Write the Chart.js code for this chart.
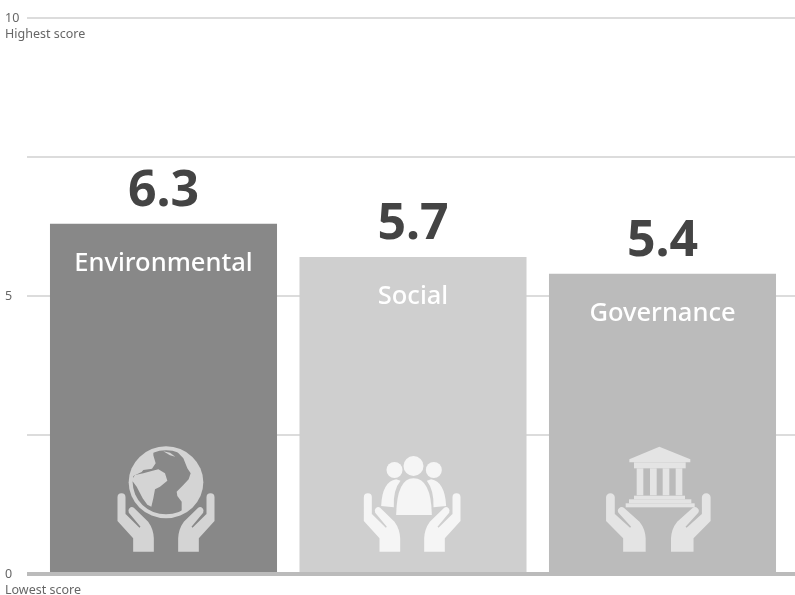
<!DOCTYPE html>
<html>
<head>
<meta charset="utf-8">
<style>
  html, body { margin: 0; padding: 0; background: #fff; }
  #wrap { width: 795px; height: 595px; }
  canvas { display: block; }
</style>
</head>
<body>
<div id="wrap"><canvas id="chart" width="795" height="595"></canvas></div>
<script src="https://cdn.jsdelivr.net/npm/chart.js@4"></script>
<script>
const categories = ['Environmental', 'Social', 'Governance'];
const scores = [6.3, 5.7, 5.4];
const barColors = ['#888888', '#cfcfcf', '#bbbbbb'];
const iconColors = ['#d4d4d4', '#f5f5f5', '#e4e4e4'];
const tickValues = [0, 2.5, 5, 7.5, 10];
const tickLabels = { 0: '0', 5: '5', 10: '10' };
const axisNotes = { 0: 'Lowest score', 10: 'Highest score' };
const FONT = '"Noto Sans", sans-serif';

// one open hand, origin at the inner bottom corner (icon units, 3 = 1px)
const handPath = 'M-109,-163 A12,12 0 0 1 -85,-163 L-85,-112 L-84,-112 L-43,-72 L-40,-75 L-75,-117 A11,11 0 0 1 -60,-132 L-17,-90 Q-1,-68 0,-40 L0,0 L-62,0 L-62,-40 L-109,-92 Z';

function drawHands(ctx, inner, sx) {
  const p = new Path2D(handPath);
  [1, -1].forEach((side) => {
    ctx.save();
    ctx.translate(side * -inner, 365);
    ctx.scale(side * sx, 1);
    ctx.fill(p);
    ctx.restore();
  });
}

function drawGlobe(ctx, bg) {
  const fg = ctx.fillStyle;
  ctx.beginPath();
  ctx.ellipse(0, 157, 112, 108, 0, 0, Math.PI * 2);
  ctx.fill();
  ctx.fillStyle = bg;
  ctx.beginPath();
  ctx.ellipse(0, 157, 100, 96, 0, 0, Math.PI * 2);
  ctx.fill();
  ctx.fillStyle = fg;
  ctx.beginPath();
  ctx.ellipse(0, 157, 104, 100, 0, 0, Math.PI * 2);
  ctx.clip();
  // continents, centred on x = 228 in the source crop
  ctx.translate(-228, 0);
  ctx.fill(new Path2D('M190,50 L190,76 L197,100 L186,116 L160,120 L155,126 L125,140 L110,100 L150,50 Z'));
  ctx.fill(new Path2D('M160,130 L185,123 L205,118 L225,130 L232,152 L210,170 L195,178 L190,205 L184,230 L172,224 L158,205 L140,170 L125,150 L135,135 Z'));
  ctx.fill(new Path2D('M220,64 L240,68 L256,80 L240,76 Z'));
  ctx.fill(new Path2D('M262,66 L280,85 L292,115 L302,130 L296,148 L280,165 L260,185 L262,198 L275,215 L275,250 L310,240 L345,170 L340,100 L300,50 Z'));
}

function drawPeople(ctx) {
  ctx.translate(-218, 0);
  [[222, 108, 30], [165, 120, 24], [283, 120, 24]].forEach((h) => {
    ctx.beginPath();
    ctx.arc(h[0], h[1], h[2], 0, Math.PI * 2);
    ctx.fill();
  });
  ctx.fill(new Path2D('M170,255 Q172,145 222,145 Q275,145 277,255 Z'));
  ctx.fill(new Path2D('M125,228 Q128,155 170,148 L183,152 Q160,180 163,232 Z'));
  ctx.fill(new Path2D('M320,228 Q316,155 275,148 L262,152 Q284,180 282,232 Z'));
}

function drawBank(ctx) {
  ctx.translate(-220, 0);
  ctx.fill(new Path2D('M133,88 L223,50 L316,88 L316,97 L133,97 Z'));
  ctx.fillRect(147, 97, 155, 18);
  [155, 195, 233, 272].forEach((x) => ctx.fillRect(x, 115, 20, 81));
  ctx.fillRect(147, 197, 153, 11);
  ctx.fillRect(132, 208, 187, 12);
  ctx.fillRect(122, 220, 207, 12);
}

// per-bar icon: offset from bar centre, hand spacing and width
const icons = [
  { off: 7.5, inner: 36.5, sx: 1, draw: (ctx) => drawGlobe(ctx, barColors[0]) },
  { off: -2.5, inner: 36, sx: 1, draw: (ctx) => drawPeople(ctx) },
  { off: -12.5, inner: 38, sx: 1.09, draw: (ctx) => drawBank(ctx) }
];

const gridPlugin = {
  id: 'fullGrid',
  beforeDatasetsDraw(chart) {
    const ctx = chart.ctx, y = chart.scales.y;
    ctx.save();
    y.ticks.forEach((t) => {
      if (t.value === 0) return;
      const py = Math.round(y.getPixelForValue(t.value));
      ctx.fillStyle = '#dcdcdc';
      ctx.fillRect(27, py - 1, 768, 2);
    });
    ctx.restore();
  },
  afterDatasetsDraw(chart) {
    const ctx = chart.ctx, y = chart.scales.y;
    const meta = chart.getDatasetMeta(0);
    const base = y.getPixelForValue(0);
    ctx.save();
    ctx.fillStyle = '#bbbbbb';
    ctx.fillRect(27, base - 2, 768, 4);

    ctx.textAlign = 'center';
    ctx.textBaseline = 'middle';
    meta.data.forEach((bar, i) => {
      ctx.fillStyle = '#444444';
      ctx.font = 'bold 50px ' + FONT;
      ctx.fillText(scores[i].toFixed(1), bar.x, bar.y - 32);
      ctx.fillStyle = '#ffffff';
      ctx.font = '500 25.5px ' + FONT;
      ctx.fillText(categories[i], bar.x, bar.y + 40);

      const icon = icons[i];
      ctx.save();
      ctx.translate(bar.x + icon.off / 3, base - 144);
      ctx.scale(1 / 3, 1 / 3);
      ctx.fillStyle = iconColors[i];
      ctx.save();
      icon.draw(ctx);
      ctx.restore();
      drawHands(ctx, icon.inner, icon.sx);
      ctx.restore();
    });

    ctx.textAlign = 'left';
    ctx.fillStyle = '#666666';
    ctx.font = '12.5px ' + FONT;
    Object.keys(axisNotes).forEach((v) => {
      ctx.fillText(axisNotes[v], 5, y.getPixelForValue(+v) + 16);
    });
    ctx.restore();
  }
};

new Chart(document.getElementById('chart'), {
  type: 'bar',
  data: {
    labels: categories,
    datasets: [{
      data: scores,
      backgroundColor: barColors,
      barPercentage: 0.91,
      categoryPercentage: 1
    }]
  },
  options: {
    responsive: false,
    animation: false,
    layout: { padding: { left: 5, right: 7.75, top: 18, bottom: 21 } },
    plugins: { legend: { display: false }, tooltip: { enabled: false } },
    scales: {
      x: { display: false },
      y: {
        min: 0,
        max: 10,
        afterFit: (scale) => { scale.width = 33.75; },
        afterBuildTicks: (scale) => { scale.ticks = tickValues.map((v) => ({ value: v })); },
        grid: { display: false },
        border: { display: false },
        ticks: {
          crossAlign: 'far',
          color: '#666666',
          font: { family: 'Noto Sans', size: 12.5 },
          callback: (v) => tickLabels[v] || ''
        }
      }
    }
  },
  plugins: [gridPlugin]
});
</script>
</body>
</html>
